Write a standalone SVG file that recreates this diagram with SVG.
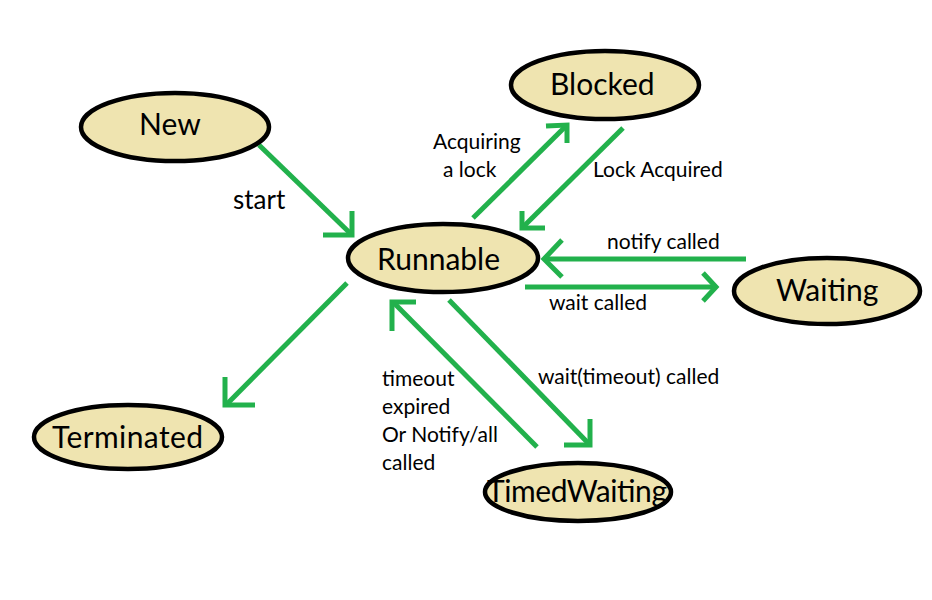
<svg xmlns="http://www.w3.org/2000/svg" width="932" height="600" viewBox="0 0 932 600">
<style>
.node ellipse{fill:#EFE4B0;stroke:#000;stroke-width:4.5}
.node text{font-family:Lato,"Open Sans",sans-serif;font-size:30px;fill:#000}
.edge{fill:none;stroke:#22B14C;stroke-width:5;stroke-linecap:butt;stroke-linejoin:miter}
.lbl{font-family:Lato,"Open Sans",sans-serif;font-size:21px;fill:#000}
</style>
<rect width="932" height="600" fill="#fff"/>
<g id="connectors">
<g id="e-new-runnable"><path class="edge" d="M259,145 L352,235"/><path class="edge" d="M323,235 L352,235 L352,211"/></g>
<g id="e-runnable-blocked"><path class="edge" d="M473,218 L567,125"/><path class="edge" d="M546,126 L567,125 L567,143"/></g>
<g id="e-blocked-runnable"><path class="edge" d="M623,128 L522,228"/><path class="edge" d="M522,211 L522,228 L545,228"/></g>
<g id="e-waiting-runnable"><path class="edge" d="M746,259 L544,259"/><path class="edge" d="M562,240 L544,259 L562,277"/></g>
<g id="e-runnable-waiting"><path class="edge" d="M525,287 L716,287"/><path class="edge" d="M703,273 L716,287 L703,301"/></g>
<g id="e-runnable-terminated"><path class="edge" d="M347,283 L226,405"/><path class="edge" d="M225,377 L225,405 L255,405"/></g>
<g id="e-runnable-timed"><path class="edge" d="M449,300 L590,445"/><path class="edge" d="M564,445 L590,445 L590,419"/></g>
<g id="e-timed-runnable"><path class="edge" d="M537,447 L393,302"/><path class="edge" d="M416,302 L392,302 L392,331"/></g>
<text class="lbl" x="233" y="209" style="font-size:26px">start</text>
<text class="lbl" x="433" y="149">Acquiring</text>
<text class="lbl" x="443" y="177">a lock</text>
<text class="lbl" x="593" y="177">Lock Acquired</text>
<text class="lbl" x="607" y="249">notify called</text>
<text class="lbl" x="549" y="310">wait called</text>
<text class="lbl" x="538" y="384">wait(timeout) called</text>
<text class="lbl" x="382" y="386">timeout</text>
<text class="lbl" x="382" y="414">expired</text>
<text class="lbl" x="382" y="442">Or Notify/all</text>
<text class="lbl" x="382" y="470">called</text>
</g>
<g id="new" class="node"><ellipse cx="175" cy="127" rx="94" ry="34"/><text x="139" y="135">New</text></g>
<g id="blocked" class="node"><ellipse cx="605" cy="85" rx="94" ry="34"/><text x="550" y="95">Blocked</text></g>
<g id="runnable" class="node"><ellipse cx="443" cy="258" rx="95" ry="34"/><text x="377" y="270">Runnable</text></g>
<g id="waiting" class="node"><ellipse cx="827" cy="291" rx="93" ry="33"/><text x="776" y="301">Waiting</text></g>
<g id="terminated" class="node"><ellipse cx="128" cy="437" rx="94" ry="32"/><text x="52" y="448" textLength="151">Terminated</text></g>
<g id="timedwaiting" class="node"><ellipse cx="578" cy="492" rx="93" ry="29"/><text x="487" y="502" textLength="180">TimedWaiting</text></g>
</svg>
